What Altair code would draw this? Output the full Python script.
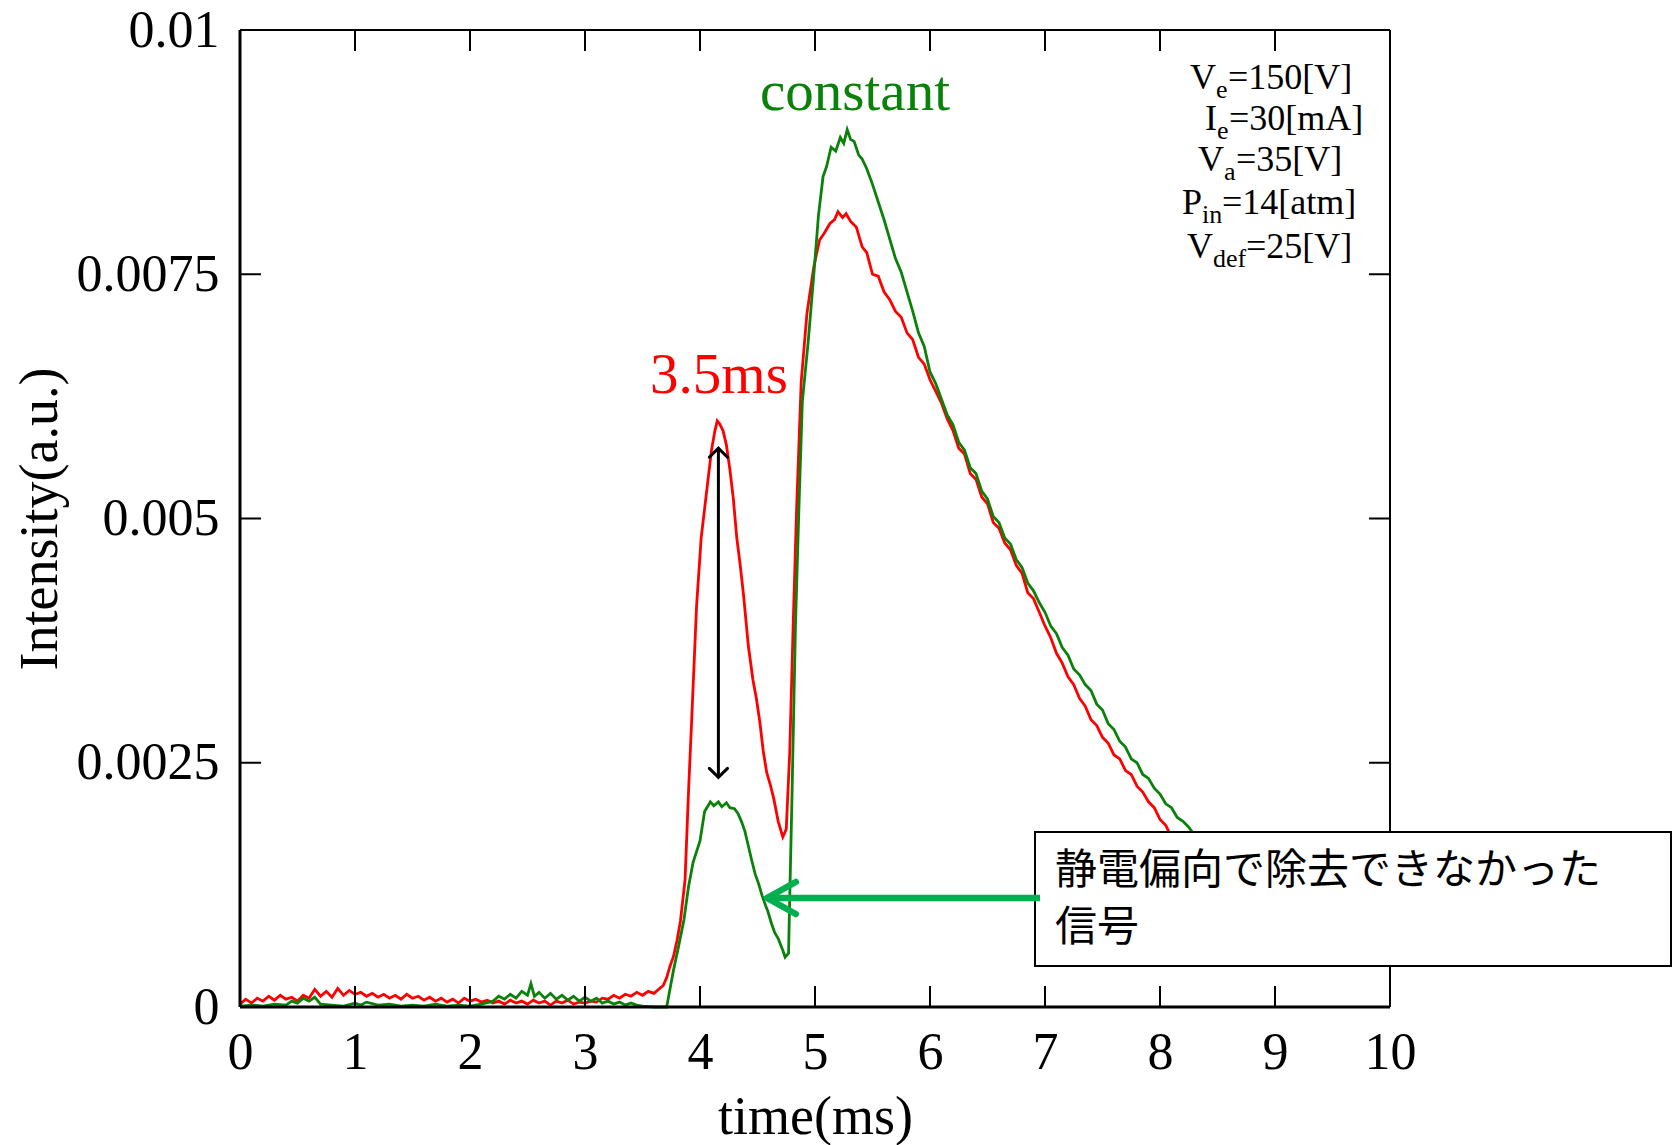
import altair as alt
import pandas as pd

SERIF = "Liberation Serif"
JP = "Noto Sans CJK JP"
RED = "#ff0000"
GREEN = "#0a820a"
ARROW_GREEN = "#00b050"

# ---------------- data ----------------
red_t = [0.00, 0.05, 0.10, 0.15, 0.20, 0.25, 0.30, 0.35, 0.40, 0.45, 0.50, 0.55, 0.60, 0.65, 0.70, 0.75,
         0.80, 0.85, 0.90, 0.95, 1.00, 1.05, 1.10, 1.15, 1.20, 1.25, 1.30, 1.35, 1.40, 1.45, 1.50, 1.55,
         1.60, 1.65, 1.70, 1.75, 1.80, 1.85, 1.90, 1.95, 2.00, 2.05, 2.10, 2.15, 2.20, 2.25, 2.30, 2.35,
         2.40, 2.45, 2.50, 2.55, 2.60, 2.65, 2.70, 2.75, 2.80, 2.85, 2.90, 2.95, 3.00, 3.05, 3.10, 3.15,
         3.20, 3.25, 3.30, 3.35, 3.40, 3.45, 3.50, 3.55, 3.60, 3.65, 3.68,
         3.71, 3.74, 3.77, 3.80, 3.83, 3.87, 3.90, 3.93, 3.97, 4.01, 4.06, 4.10, 4.13, 4.15, 4.17, 4.20,
         4.23, 4.26, 4.29, 4.32, 4.35, 4.38, 4.42, 4.46, 4.49, 4.52, 4.55, 4.58, 4.61, 4.64, 4.68, 4.72,
         4.75, 4.78, 4.81, 4.84, 4.88, 4.93, 4.99, 5.04, 5.08, 5.13, 5.17, 5.20, 5.24, 5.27, 5.31, 5.36,
         5.41, 5.45, 5.50, 5.55, 5.60, 5.65, 5.70, 5.75, 5.80, 5.85, 5.90, 5.95, 6.00, 6.05, 6.10, 6.15,
         6.20, 6.25, 6.30, 6.35, 6.40, 6.45, 6.50, 6.55, 6.60, 6.65, 6.70, 6.75, 6.80, 6.85, 6.90, 6.95,
         7.00, 7.05, 7.10, 7.15, 7.20, 7.25, 7.30, 7.35, 7.40, 7.45, 7.50, 7.55, 7.60, 7.65, 7.70, 7.75,
         7.80, 7.85, 7.90, 7.95, 8.00, 8.05, 8.10, 8.15, 8.20]
red_v = [0.00003, 0.00008, 0.00004, 0.00009, 0.00006, 0.00011, 0.00007, 0.00012, 0.00008, 0.00010,
         0.00006, 0.00012, 0.00009, 0.00018, 0.00011, 0.00016, 0.00010, 0.00019, 0.00012, 0.00017,
         0.00013, 0.00015, 0.00011, 0.00014, 0.00010, 0.00013, 0.00009, 0.00012, 0.00008, 0.00013,
         0.00009, 0.00011, 0.00007, 0.00010, 0.00006, 0.00009, 0.00005, 0.00008, 0.00004, 0.00009,
         0.00006, 0.00008, 0.00005, 0.00007, 0.00004, 0.00006, 0.00003, 0.00007, 0.00004, 0.00006,
         0.00003, 0.00007, 0.00004, 0.00006, 0.00002, 0.00006, 0.00004, 0.00007, 0.00003, 0.00005,
         0.00004, 0.00006, 0.00005, 0.00009, 0.00008, 0.00012, 0.00009, 0.00013, 0.00011, 0.00015,
         0.00012, 0.00016, 0.00014, 0.00019, 0.00022,
         0.00030, 0.00042, 0.00052, 0.00068, 0.00088, 0.00130, 0.00220, 0.00300, 0.00410, 0.00480,
         0.00530, 0.00570, 0.00590, 0.00600, 0.00597, 0.00590, 0.00575, 0.00550, 0.00520, 0.00480,
         0.00452, 0.00420, 0.00370, 0.00335, 0.00316, 0.00292, 0.00262, 0.00240, 0.00228, 0.00214,
         0.00190, 0.00174, 0.00182, 0.00260, 0.00390, 0.00510, 0.00640, 0.00710, 0.00758, 0.00785,
         0.00792, 0.00802, 0.00806, 0.00814, 0.00808, 0.00812, 0.00804, 0.00798,
         0.00778, 0.00772, 0.00750, 0.00748, 0.00732, 0.00724, 0.00712, 0.00706, 0.00690, 0.00683,
         0.00665, 0.00658, 0.00642, 0.00630, 0.00618, 0.00602, 0.00590, 0.00572, 0.00566, 0.00546,
         0.00540, 0.00522, 0.00515, 0.00496, 0.00490, 0.00475, 0.00468, 0.00452, 0.00444, 0.00424,
         0.00418, 0.00404, 0.00390, 0.00378, 0.00362, 0.00352, 0.00338, 0.00330, 0.00316, 0.00308,
         0.00294, 0.00288, 0.00276, 0.00270, 0.00258, 0.00254, 0.00242, 0.00238, 0.00226, 0.00220,
         0.00210, 0.00204, 0.00192, 0.00186, 0.00174, 0.00170, 0.00160]

green_t = [0.00, 0.10, 0.20, 0.30, 0.40, 0.45, 0.50, 0.55, 0.60, 0.65, 0.70, 0.80, 0.90, 1.00, 1.05,
           1.10, 1.20, 1.30, 1.40, 1.50, 1.60, 1.70, 1.80, 1.90, 2.00, 2.10, 2.20, 2.25, 2.30, 2.35,
           2.40, 2.45, 2.50, 2.53, 2.56, 2.60, 2.65, 2.70, 2.75, 2.80, 2.85, 2.90, 2.95, 3.00, 3.05,
           3.10, 3.15, 3.20, 3.25, 3.30, 3.35, 3.40, 3.45, 3.50, 3.60, 3.71,
           3.77, 3.81, 3.86, 3.90, 3.94, 4.00, 4.04, 4.07, 4.09, 4.12, 4.16, 4.19, 4.23, 4.26, 4.30,
           4.33, 4.36, 4.39, 4.42, 4.45, 4.48, 4.51, 4.54, 4.57, 4.59, 4.62, 4.65, 4.68, 4.70, 4.72,
           4.74, 4.77, 4.78, 4.80, 4.83, 4.86, 4.89, 4.94, 4.99, 5.03, 5.07, 5.10, 5.14, 5.18, 5.22,
           5.25, 5.28, 5.31, 5.34, 5.38, 5.41, 5.45, 5.50, 5.55, 5.60, 5.65, 5.70, 5.75, 5.80, 5.85,
           5.90, 5.95, 6.00, 6.05, 6.10, 6.15, 6.20, 6.25, 6.30, 6.35, 6.40, 6.45, 6.50, 6.55, 6.60,
           6.65, 6.70, 6.75, 6.80, 6.85, 6.90, 6.95, 7.00, 7.05, 7.10, 7.15, 7.20, 7.25, 7.30, 7.35,
           7.40, 7.45, 7.50, 7.55, 7.60, 7.65, 7.70, 7.75, 7.80, 7.85, 7.90, 7.95, 8.00, 8.05, 8.10,
           8.15, 8.20, 8.25, 8.30, 8.35]
green_v = [0.00001, 0.00002, 0.00001, 0.00003, 0.00002, 0.00006, 0.00004, 0.00009, 0.00006, 0.00010,
           0.00003, 0.00002, 0.00001, 0.00004, 0.00002, 0.00005, 0.00002, 0.00003, 0.00001, 0.00002,
           0.00001, 0.00003, 0.00001, 0.00002, 0.00001, 0.00003, 0.00006, 0.00011, 0.00008, 0.00013,
           0.00009, 0.00016, 0.00012, 0.00024, 0.00011, 0.00015, 0.00009, 0.00014, 0.00008, 0.00012,
           0.00007, 0.00011, 0.00006, 0.00010, 0.00006, 0.00009, 0.00004, 0.00006, 0.00003, 0.00005,
           0.00002, 0.00004, 0.00002, 0.00001, 0.00000, 0.00000,
           0.00038, 0.00060, 0.00089, 0.00123, 0.00148, 0.00170, 0.00200, 0.00206, 0.00210, 0.00206,
           0.00210, 0.00205, 0.00209, 0.00204, 0.00203, 0.00198, 0.00190, 0.00180, 0.00165, 0.00150,
           0.00136, 0.00126, 0.00114, 0.00104, 0.00098, 0.00086, 0.00076, 0.00070, 0.00064, 0.00058,
           0.00051, 0.00055, 0.00110, 0.00216, 0.00390, 0.00510, 0.00620, 0.00680, 0.00750, 0.00810,
           0.00850, 0.00860, 0.00880, 0.00876, 0.00890, 0.00884, 0.00898, 0.00888, 0.00886, 0.00872,
           0.00868, 0.00858, 0.00842, 0.00824, 0.00806, 0.00786, 0.00766, 0.00752, 0.00732, 0.00712,
           0.00690, 0.00676, 0.00650, 0.00638, 0.00622, 0.00606, 0.00596, 0.00578, 0.00570, 0.00552,
           0.00546, 0.00528, 0.00520, 0.00502, 0.00496, 0.00480, 0.00474, 0.00458, 0.00450, 0.00434,
           0.00426, 0.00414, 0.00404, 0.00390, 0.00382, 0.00368, 0.00360, 0.00346, 0.00340, 0.00330,
           0.00324, 0.00310, 0.00304, 0.00290, 0.00284, 0.00272, 0.00266, 0.00254, 0.00250, 0.00238,
           0.00234, 0.00224, 0.00218, 0.00208, 0.00204, 0.00194, 0.00190, 0.00184, 0.00176, 0.00170]

x_tick_values = [0, 1, 2, 3, 4, 5, 6, 7, 8, 9, 10]
y_tick_values = [0, 0.0025, 0.005, 0.0075, 0.01]
inner_x_ticks = [1, 2, 3, 4, 5, 6, 7, 8, 9]
inner_y_ticks = [0.0025, 0.005, 0.0075]

param_pre = ["V", "I", "V", "P", "V"]
param_sub = ["e", "e", "a", "in", "def"]
param_suf = ["=150[V]", "=30[mA]", "=35[V]", "=14[atm]", "=25[V]"]

box_lines = ["静電偏向で除去できなかった", "信号"]

# ---------------- layout helpers (pixel -> data) ----------------
W, H = 1150, 977
LEFT, TOP = 240, 30


def px2t(px):
    return (px - LEFT) / W * 10


def py2v(py):
    return (TOP + H - py) / H * 0.01


xs = alt.Scale(domain=[0, 10], nice=False, zero=False)
ys = alt.Scale(domain=[0, 0.01], nice=False, zero=False)

x_axis = alt.Axis(values=x_tick_values, format="d", title="time(ms)", titleFont=SERIF,
                  titleFontSize=54, titleFontWeight="normal", titleColor="black", titleY=110,
                  titleBaseline="middle", labelFont=SERIF, labelFontSize=52, labelColor="black",
                  labelPadding=20, ticks=False, domain=False, grid=False, labelFlush=False,
                  labelOverlap=False)
y_axis = alt.Axis(values=y_tick_values, format=".2~g", title="Intensity(a.u.)", titleFont=SERIF,
                  titleFontSize=54, titleFontWeight="normal", titleColor="black", titleAngle=270,
                  titleX=-200, titleY=H / 2, titleBaseline="middle", labelFont=SERIF,
                  labelFontSize=52, labelColor="black", labelPadding=21, ticks=False,
                  domain=False, grid=False, labelFlush=False, labelOverlap=False)


def X(field):
    return alt.X(field, type="quantitative", scale=xs, axis=x_axis, title="time(ms)")


def Y(field):
    return alt.Y(field, type="quantitative", scale=ys, axis=y_axis, title="Intensity(a.u.)")


df_red = pd.DataFrame({"t": red_t, "v": red_v})
df_green = pd.DataFrame({"t": green_t, "v": green_v})

red_line = alt.Chart(df_red).mark_line(color=RED, strokeWidth=2.8).encode(x=X("t"), y=Y("v"))
green_line = alt.Chart(df_green).mark_line(color=GREEN, strokeWidth=2.8).encode(x=X("t"), y=Y("v"))

# frame
df_frame = pd.DataFrame({"t": [0, 0, 10, 0], "t2": [0, 10, 10, 10],
                         "v": [0, 0, 0, 0.01], "v2": [0.01, 0, 0.01, 0.01],
                         "w": [3, 3, 2, 2]})
frame = alt.Chart(df_frame).mark_rule(color="black").encode(
    x=X("t"), x2="t2:Q", y=Y("v"), y2="v2:Q",
    strokeWidth=alt.StrokeWidth("w:Q", scale=None, legend=None))

# inward ticks on all sides
df_bt = pd.DataFrame({"t": inner_x_ticks, "v": [0] * len(inner_x_ticks)})
df_tt = pd.DataFrame({"t": inner_x_ticks, "v": [0.01] * len(inner_x_ticks)})
df_lt = pd.DataFrame({"t": [0] * len(inner_y_ticks), "v": inner_y_ticks})
df_rt = pd.DataFrame({"t": [10] * len(inner_y_ticks), "v": inner_y_ticks})


def ticks(df, orient, xo, yo):
    return alt.Chart(df).mark_tick(orient=orient, size=21, thickness=2, color="black",
                                   opacity=1, xOffset=xo, yOffset=yo).encode(x=X("t"), y=Y("v"))


tick_layers = [ticks(df_bt, "vertical", 0, -10.5), ticks(df_tt, "vertical", 0, 10.5),
               ticks(df_lt, "horizontal", 10.5, 0), ticks(df_rt, "horizontal", -10.5, 0)]

# black double arrow
arrow_t = 4.16
df_shaft = pd.DataFrame({"t": [arrow_t], "v": [0.00236], "v2": [0.00571]})
shaft = alt.Chart(df_shaft).mark_rule(color="black", strokeWidth=3).encode(
    x=X("t"), y=Y("v"), y2="v2:Q")
head_up = alt.Chart(pd.DataFrame({"t": [arrow_t], "v": [0.00572]})).mark_point(
    shape="M-1,1L0,0L1,1", filled=False, color="black", strokeWidth=3, size=330, opacity=1,
    strokeCap="round").encode(x=X("t"), y=Y("v"))
head_dn = alt.Chart(pd.DataFrame({"t": [arrow_t], "v": [0.00235]})).mark_point(
    shape="M-1,-1L0,0L1,-1", filled=False, color="black", strokeWidth=3, size=330, opacity=1,
    strokeCap="round").encode(x=X("t"), y=Y("v"))

# green arrow
g_v = py2v(898)
g_shaft = alt.Chart(pd.DataFrame({"t": [px2t(770)], "t2": [px2t(1040)], "v": [g_v]})).mark_rule(
    color=ARROW_GREEN, strokeWidth=6.5).encode(x=X("t"), x2="t2:Q", y=Y("v"))
g_head = alt.Chart(pd.DataFrame({"t": [px2t(767)], "v": [g_v]})).mark_point(
    shape="M1.8,-1L0,0L1.8,1", filled=False, color=ARROW_GREEN, strokeWidth=6.5, size=1024,
    opacity=1, strokeCap="round", strokeJoin="round").encode(x=X("t"), y=Y("v"))

# labels on the curves
lbl_35 = alt.Chart(pd.DataFrame({"t": [px2t(719)], "v": [py2v(393)], "s": ["3.5ms"]})).mark_text(
    font=SERIF, fontSize=57, color=RED, align="center", baseline="alphabetic").encode(
    x=X("t"), y=Y("v"), text="s:N")
lbl_const = alt.Chart(pd.DataFrame({"t": [px2t(855)], "v": [py2v(110)], "s": ["constant"]})).mark_text(
    font=SERIF, fontSize=57, color=GREEN, align="center", baseline="alphabetic").encode(
    x=X("t"), y=Y("v"), text="s:N")

# parameter block with subscripts
pre_end_px = [1216, 1217, 1224, 1202, 1213]
suf_start_px = [1228, 1229, 1236, 1222, 1246]
base_py = [89, 130, 171, 214, 258]
df_par = pd.DataFrame({
    "tp": [px2t(p) for p in pre_end_px],
    "ts": [px2t(p) for p in suf_start_px],
    "v": [py2v(p) for p in base_py],
    "vs": [py2v(p + 9) for p in base_py],
    "pre": param_pre, "sub": param_sub, "suf": param_suf,
})
par_pre = alt.Chart(df_par).mark_text(font=SERIF, fontSize=36, color="black", align="right",
                                      baseline="alphabetic").encode(
    x=X("tp"), y=Y("v"), text="pre:N")
par_sub = alt.Chart(df_par).mark_text(font=SERIF, fontSize=26, color="black", align="left",
                                      baseline="alphabetic").encode(
    x=X("tp"), y=Y("vs"), text="sub:N")
par_suf = alt.Chart(df_par).mark_text(font=SERIF, fontSize=36, color="black", align="left",
                                      baseline="alphabetic").encode(
    x=X("ts"), y=Y("v"), text="suf:N")

# callout box
box = alt.Chart(pd.DataFrame({"t": [px2t(1035)], "t2": [px2t(1671)], "v": [py2v(966)],
                              "v2": [py2v(832)]})).mark_rect(
    fill="white", stroke="black", strokeWidth=2).encode(
    x=X("t"), x2="t2:Q", y=Y("v"), y2="v2:Q")
box_text = alt.Chart(pd.DataFrame({"t": [px2t(1055)] * 2, "v": [py2v(871), py2v(928)],
                                   "s": box_lines})).mark_text(
    font=JP, fontSize=42, color="black", align="left", baseline="middle").encode(
    x=X("t"), y=Y("v"), text="s:N")

chart = alt.layer(
    red_line, green_line, frame, *tick_layers, shaft, head_up, head_dn,
    lbl_35, lbl_const, par_pre, par_sub, par_suf, box, box_text, g_shaft, g_head
).properties(
    width=W, height=H,
    padding={"left": LEFT, "top": TOP, "right": 1676 - LEFT - W, "bottom": 1145 - TOP - H},
    autosize=alt.AutoSizeParams(type="none"),
    background="white",
).configure_view(stroke=None)

chart.save("out.html", embed_options={"renderer": "svg", "actions": False})
